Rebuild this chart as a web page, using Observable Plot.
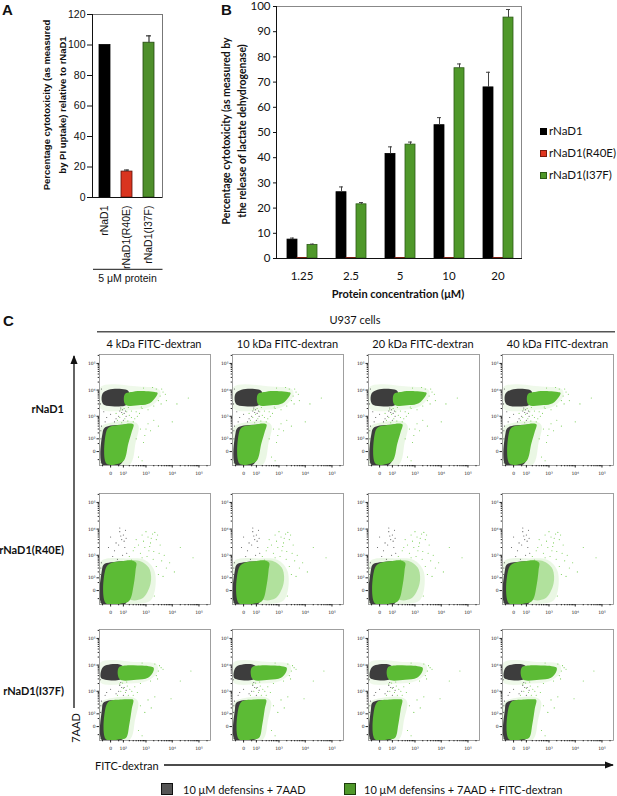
<!DOCTYPE html>
<html><head><meta charset="utf-8">
<script src="https://cdn.jsdelivr.net/npm/d3@7"></script>
<script src="https://cdn.jsdelivr.net/npm/@observablehq/plot@0.6"></script>
<style>
body{margin:0;background:#fff;}
#fig{position:relative;width:617px;height:796px;overflow:hidden;font-family:Lato,sans-serif;background:#fff;}
#fig svg{max-width:none;overflow:visible;}
</style></head><body><div id="fig"></div>
<script>
// ---------------- Panel A data ----------------
const aCategories = ["rNaD1", "rNaD1(R40E)", "rNaD1(I37F)"];
const aValues = [100, 17, 101.5];
const aErrors = [0, 1, 4.5];
const aColors = ["#000000", "#d9341f", "#4e8f2b"];
const aStrokes = ["#000000", "#5a1008", "#24480f"];
const aTicks = [0, 20, 40, 60, 80, 100, 120];

// ---------------- Panel B data ----------------
const bConcentrations = ["1.25", "2.5", "5", "10", "20"];
const bSeries = ["rNaD1", "rNaD1(R40E)", "rNaD1(I37F)"];
const bRNaD1 = [7.5, 26.3, 41.5, 52.9, 67.9];
const bRNaD1Err = [0.6, 2.1, 2.8, 3.0, 6.0];
const bR40E = [0.2, 0.2, 0.2, 0.2, 0.2];
const bR40EErr = [0, 0, 0, 0, 0];
const bI37F = [5.4, 21.5, 45.2, 75.5, 95.6];
const bI37FErr = [0.3, 0.7, 1.0, 1.7, 3.2];
const bColors = ["#000000", "#e0351f", "#4f982a"];
const bStrokes = ["#000000", "#7a1a0c", "#2c5a16"];
const bTicks = [0, 10, 20, 30, 40, 50, 60, 70, 80, 90, 100];

// ---------------- Panel C data ----------------
const cColumns = ["4 kDa FITC-dextran", "10 kDa FITC-dextran", "20 kDa FITC-dextran", "40 kDa FITC-dextran"];
const cRows = ["rNaD1", "rNaD1(R40E)", "rNaD1(I37F)"];
const cMajorTicks = [0, 100, 1000, 10000, 100000];
const cMajorLabels = ["0", "10²", "10³", "10⁴", "10⁵"];
const cMinorTicks = [-50, 50, 200, 300, 400, 500, 600, 700, 800, 900, 2000, 3000, 4000, 5000, 6000, 7000, 8000, 9000, 20000, 30000, 40000, 50000, 60000, 70000, 80000, 90000, 200000];

// row 1: rNaD1  (FITC-dextran x, 7AAD y)
const r1Halo = [[-70,-110],[-70,350],[0,550],[300,620],[500,420],[380,60],[200,-110]];
const r1DeadHalo = [[-70,2000],[-70,13000],[500,13500],[3200,10500],[3500,6000],[1500,2400],[300,1800]];
const r1LiveGrey = [[-50,-110],[-50,200],[-35,330],[0,420],[100,460],[190,450],[170,150],[110,-40],[55,-110]];
const r1LiveGreen = [[-22,-90],[-22,240],[-5,370],[80,460],[220,510],[310,470],[260,230],[180,50],[110,-55],[40,-95]];
const r1DeadGrey = [[-55,3600],[-50,7500],[-10,10300],[80,11000],[180,9300],[200,5500],[140,2700],[20,2400],[-35,2700]];
const r1DeadGreen = [[130,2800],[120,7000],[300,8700],[1000,9100],[2200,8500],[2800,7800],[2400,5500],[1400,3200],[600,2700]];
const r1DotsGreen = [[40,700],[60,900],[90,1200],[120,800],[150,1500],[70,1800],[200,1100],[110,2000],[30,1300],[170,650],[250,900],[80,550],
  [3500,6000],[4500,8500],[3000,4000],[2000,2500],[5500,7000],[1200,1800],[2500,11000],[800,12000],[6000,4000],
  [600,300],[900,150],[1200,500],[800,60],[500,-30],[1500,250],[2000,700],[3000,400],[10000,600],[15000,3000],[40000,5000],[400,1500],[700,2000],[300,600],
  [450,1000],[350,800],[550,1300],[250,1600],[180,2200],[650,2300],[3800,3000],[4000,11000],[1800,12500],[400,100],[700,-60],[1000,300]];
const r1DotsGrey = [[50,1000],[80,1400],[100,700],[30,800],[140,1000],[60,1600],[0,1200],[-20,900],[20,600],[110,1300],[70,2100],[-40,1500],
  [-60,400],[-65,100],[-62,-80],[-30,600],[90,1800],[130,1600],[-70,3000],[-60,11000],[-66,250],[-58,-30]];

// row 2: rNaD1(R40E)
const r2Halo = [[-70,-110],[-70,550],[150,750],[900,650],[2200,200],[1600,-60],[400,-110]];
const r2Side = [[180,-50],[180,560],[450,620],[850,480],[1400,260],[1500,40],[700,-50]];
const r2LiveGrey = [[-55,-114],[-55,250],[-40,420],[0,520],[120,580],[230,560],[230,200],[180,-20],[120,-114]];
const r2LiveGreen = [[-25,-100],[-25,300],[0,480],[100,590],[220,630],[400,500],[380,250],[320,40],[200,-70],[90,-100]];
const r2DotsGreen = [[200,900],[300,1500],[500,2500],[800,3500],[1200,5000],[1800,6500],[2200,7500],[600,1200],[900,2000],[1500,3000],[400,4000],[700,6000],[1000,8000],
  [2500,4000],[3500,2500],[5000,1000],[250,650],[1300,1500],[8000,500],[20000,2000],[60000,800],[3000,150],[6000,300],[350,2000],[1600,4500],[2800,6000],[4000,600],[12000,200],
  [1900,700],[2500,350],[1100,900],[3200,1200],[700,800],[2100,-30],[4500,120],[1400,2200],[2000,1400]];
const r2DotsGrey = [[20,1500],[50,2500],[80,4000],[100,6000],[60,8000],[30,3000],[120,2000],[0,5000],[90,1000],[40,700],[110,3500],[70,5500],[130,9000],[-10,2000],[150,1200],[10,900],
  [-60,500],[-68,150],[-65,-90],[140,4500],[60,11000],[-66,300],[-62,0]];

// row 3: rNaD1(I37F)
const r3Halo = [[-70,-110],[-70,330],[0,520],[280,580],[480,380],[360,40],[200,-110]];
const r3DeadHalo = [[-70,2200],[-70,12500],[400,13000],[2600,10500],[2800,5500],[1100,2500],[200,2000]];
const r3LiveGrey = [[-55,-114],[-55,180],[-45,330],[-10,420],[100,440],[160,420],[150,50],[110,-80],[60,-114]];
const r3LiveGreen = [[-25,-100],[-25,230],[-5,400],[80,470],[200,480],[300,450],[260,190],[200,10],[140,-80],[60,-100]];
const r3DeadGrey = [[-65,3300],[-55,7500],[-20,10000],[60,10500],[110,8000],[110,4000],[60,2800],[-30,2800]];
const r3DeadGreen = [[60,2900],[50,8000],[200,9800],[700,9600],[1500,8800],[2000,7800],[1800,5000],[1200,3300],[400,2800]];
const r3DotsGreen = [[40,700],[70,1000],[100,1300],[130,900],[160,1600],[60,1900],[210,1200],[90,2100],[180,700],[260,1000],
  [3000,6000],[3800,8000],[2500,4000],[1500,2500],[4500,7000],[2200,11000],[700,12000],
  [600,250],[900,120],[1200,450],[500,-20],[1600,200],[2200,600],[9000,500],[20000,2500],[50000,6000],[350,1500],[600,2000],
  [450,900],[300,700],[150,2300],[2800,3000],[3300,9500],[700,-60]];
const r3DotsGrey = [[50,1000],[80,1400],[100,700],[30,800],[140,1100],[60,1700],[0,1200],[-20,900],[110,1400],[70,2200],
  [-60,400],[-68,120],[-64,-90],[-30,700],[-70,2800],[-66,250]];

// ---------------- helpers ----------------
const fig = document.getElementById("fig");
function place(node, left, top) {
  const w = document.createElement("div");
  w.style.cssText = `position:absolute;left:${left}px;top:${top}px;`;
  w.appendChild(node);
  fig.appendChild(w);
  return w;
}
function label(str, x, y, font, opts = {}) {
  const d = document.createElement("div");
  d.textContent = str;
  const tx = opts.anchor === "middle" ? "-50%" : opts.anchor === "end" ? "-100%" : "0";
  d.style.cssText = `position:absolute;left:${x}px;top:${y}px;white-space:nowrap;font:${font};color:${opts.color || "#111"};line-height:1;` +
    `transform:translate(${tx},-50%)${opts.rotate ? " rotate(-90deg)" : ""};`;
  fig.appendChild(d);
  return d;
}
function box(left, top, w, h, css) {
  const d = document.createElement("div");
  d.style.cssText = `position:absolute;left:${left}px;top:${top}px;width:${w}px;height:${h}px;box-sizing:border-box;${css}`;
  fig.appendChild(d);
  return d;
}

// decorative overlay (lines/arrows)
const ns = "http://www.w3.org/2000/svg";
const deco = document.createElementNS(ns, "svg");
deco.setAttribute("width", 617); deco.setAttribute("height", 796);
deco.style.cssText = "position:absolute;left:0;top:0;";
deco.innerHTML = `
<defs><marker id="ah" viewBox="0 0 10 10" refX="9" refY="5" markerWidth="7" markerHeight="7" orient="auto-start-reverse"><path d="M0,1 L10,5 L0,9 z" fill="#111"/></marker></defs>
<line x1="93" y1="269.3" x2="162.5" y2="269.3" stroke="#444" stroke-width="1.3"/>
<line x1="97" y1="331.7" x2="615" y2="331.7" stroke="#555" stroke-width="1.6"/>
<line x1="74" y1="708" x2="74" y2="356" stroke="#111" stroke-width="1.3" marker-end="url(#ah)"/>
<line x1="164" y1="765" x2="613" y2="765" stroke="#111" stroke-width="1.3" marker-end="url(#ah)"/>
`;
fig.appendChild(deco);

// ---------------- Panel A ----------------
const aData = aCategories.map((c, i) => ({cat: c, v: aValues[i], e: aErrors[i], fill: aColors[i], stroke: aStrokes[i]}));
const plotA = Plot.plot({
  width: 200, height: 300,
  marginLeft: 92, marginRight: 38, marginTop: 14, marginBottom: 103,
  style: {background: "transparent", fontFamily: "'Liberation Sans', Arial, sans-serif", fontSize: "10.5px", color: "#111"},
  x: {domain: aCategories, paddingInner: 0.48, paddingOuter: 0.3, label: null},
  y: {domain: [0, 120], label: null},
  color: {type: "identity"},
  marks: [
    Plot.frame({stroke: "#777"}),
    Plot.barY(aData, {x: "cat", y: "v", fill: d => d.fill, stroke: d => d.stroke, strokeWidth: 0.8}),
    Plot.ruleX(aData.filter(d => d.e > 0), {x: "cat", y1: "v", y2: d => d.v + d.e, stroke: "#333", strokeWidth: 1.2}),
    Plot.tickY(aData.filter(d => d.e > 0), {x: "cat", y: d => d.v + d.e, stroke: "#333", strokeWidth: 1.2, insetLeft: 3, insetRight: 3}),
    Plot.axisY(aTicks, {tickSize: 5, tickPadding: 2, label: null}),
    Plot.axisX({tickRotate: -90, tickSize: 0, tickPadding: 8, label: null}),
    Plot.frame({anchor: "left", stroke: "#111"}),
    Plot.ruleY([0], {stroke: "#111", strokeWidth: 1.2})
  ]
});
place(plotA, 0, 0);
label("A", 2, 9, "bold 15px 'Liberation Sans', Arial, sans-serif");
label("Percentage cytotoxicity (as measured", 47, 105, "bold 9.5px 'Liberation Sans', Arial, sans-serif", {anchor: "middle", rotate: true});
label("by PI uptake) relative to rNaD1", 62.5, 105, "bold 9.5px 'Liberation Sans', Arial, sans-serif", {anchor: "middle", rotate: true});
label("5 μM protein", 127.5, 277.5, "10.5px 'Liberation Sans', Arial, sans-serif", {anchor: "middle"});

// ---------------- Panel B ----------------
box(276, 6, 246, 252.5, "border-top:1px solid #888;border-right:1px solid #888;border-left:1.2px solid #111;");
const bData = [];
bConcentrations.forEach((c, i) => {
  bData.push({conc: c, s: bSeries[0], v: bRNaD1[i], e: bRNaD1Err[i]});
  bData.push({conc: c, s: bSeries[1], v: bR40E[i], e: bR40EErr[i]});
  bData.push({conc: c, s: bSeries[2], v: bI37F[i], e: bI37FErr[i]});
});
const bFill = s => bColors[bSeries.indexOf(s)];
const bStroke = s => bStrokes[bSeries.indexOf(s)];
const plotB = Plot.plot({
  width: 340, height: 300,
  marginLeft: 86, marginRight: 8, marginTop: 6, marginBottom: 42,
  style: {background: "transparent", fontFamily: "Lato, sans-serif", fontSize: "11.5px", color: "#111"},
  fx: {domain: bConcentrations, padding: 0, label: null, axis: "bottom", tickSize: 0, tickPadding: 13},
  x: {domain: bSeries, paddingInner: 0.04, paddingOuter: 0.75, axis: null},
  y: {domain: [0, 100], ticks: bTicks, tickSize: 4, tickPadding: 3, label: null},
  color: {type: "identity"},
  marks: [
    Plot.barY(bData, {fx: "conc", x: "s", y: "v", fill: d => bFill(d.s), stroke: d => bStroke(d.s), strokeWidth: 0.8}),
    Plot.ruleX(bData.filter(d => d.e > 0), {fx: "conc", x: "s", y1: "v", y2: d => d.v + d.e, stroke: "#444", strokeWidth: 1}),
    Plot.tickY(bData.filter(d => d.e > 0), {fx: "conc", x: "s", y: d => d.v + d.e, stroke: "#444", strokeWidth: 1, insetLeft: 3, insetRight: 3}),
    Plot.ruleY([0], {stroke: "#111", strokeWidth: 1.2})
  ]
});
place(plotB, 190, 0);
label("B", 221, 9, "bold 15px 'Liberation Sans', Arial, sans-serif");
label("Percentage cytotoxicity (as measured by", 226, 131, "bold 10.5px Lato, sans-serif", {anchor: "middle", rotate: true});
label("the release of lactate dehydrogenase)", 242, 131, "bold 10.5px Lato, sans-serif", {anchor: "middle", rotate: true});
label("Protein concentration (μM)", 398, 292.5, "bold 11px Lato, sans-serif", {anchor: "middle"});
const legendYs = [131, 153, 175];
bSeries.forEach((s, i) => {
  box(540, legendYs[i] - 3.5, 7, 7, `background:${bColors[i]};border:0.6px solid ${bStrokes[i]};`);
  label(s, 549, legendYs[i], "11.5px Lato, sans-serif");
});

// ---------------- Panel C ----------------
label("C", 3, 320, "bold 15px 'Liberation Sans', Arial, sans-serif");
label("U937 cells", 355, 319, "11px Lato, sans-serif", {anchor: "middle"});
const rowSets = [
  {halo: r1Halo, deadHalo: r1DeadHalo, side: null, liveGrey: r1LiveGrey, liveGreen: r1LiveGreen, deadGrey: r1DeadGrey, deadGreen: r1DeadGreen, dotsGreen: r1DotsGreen, dotsGrey: r1DotsGrey},
  {halo: r2Halo, deadHalo: null, side: r2Side, liveGrey: r2LiveGrey, liveGreen: r2LiveGreen, deadGrey: null, deadGreen: null, dotsGreen: r2DotsGreen, dotsGrey: r2DotsGrey},
  {halo: r3Halo, deadHalo: r3DeadHalo, side: null, liveGrey: r3LiveGrey, liveGreen: r3LiveGreen, deadGrey: r3DeadGrey, deadGreen: r3DeadGreen, dotsGreen: r3DotsGreen, dotsGrey: r3DotsGrey}
];
const colLefts = [98.5, 232, 367.5, 502];
const rowTops = [354, 492.5, 628.5];
const rowLabelYs = [408, 549, 690];
const GREEN = "#5cbb35", GREY = "#3d3d3d";

function blob(arr, fill, op) {
  return Plot.line(arr, {x: d => d[0], y: d => d[1], curve: "catmull-rom-closed", fill, fillOpacity: op, stroke: "none", clip: true});
}
function flowPlot(rs) {
  const marks = [];
  marks.push(blob(rs.halo, "#b5e29e", 0.28));
  if (rs.deadHalo) marks.push(blob(rs.deadHalo, "#b5e29e", 0.22));
  marks.push(Plot.dot(rs.dotsGrey, {x: d => d[0], y: d => d[1], r: 0.55, fill: "#555", clip: true}));
  marks.push(Plot.dot(rs.dotsGreen, {x: d => d[0], y: d => d[1], r: 0.55, fill: "#74cc50", clip: true}));
  marks.push(blob(rs.liveGrey, GREY, 1));
  if (rs.side) marks.push(blob(rs.side, "#6cc646", 0.45));
  marks.push(blob(rs.liveGreen, GREEN, 1));
  if (rs.deadGrey) marks.push(blob(rs.deadGrey, GREY, 1));
  if (rs.deadGreen) marks.push(blob(rs.deadGreen, GREEN, 1));
  marks.push(Plot.frame({stroke: "#888", strokeWidth: 0.8}));
  marks.push(Plot.axisY(cMajorTicks, {tickSize: 2.5, tickPadding: 1.5, tickFormat: d => cMajorLabels[cMajorTicks.indexOf(d)], label: null, fontSize: 4.5}));
  marks.push(Plot.axisY(cMinorTicks, {tickSize: 1.3, tickFormat: () => "", label: null}));
  marks.push(Plot.axisX(cMajorTicks, {tickSize: 2.5, tickPadding: 3.5, tickFormat: d => cMajorLabels[cMajorTicks.indexOf(d)], label: null, fontSize: 4.5}));
  marks.push(Plot.axisX(cMinorTicks, {tickSize: 1.3, tickFormat: () => "", label: null}));
  return Plot.plot({
    width: 127, height: 125,
    marginLeft: 15, marginRight: 1, marginTop: 1, marginBottom: 13,
    style: {background: "transparent", fontFamily: "'DejaVu Sans', sans-serif", fontSize: "4.5px", color: "#222"},
    x: {type: "symlog", constant: 50, domain: [-80, 270000], label: null},
    y: {type: "symlog", constant: 50, domain: [-116, 216000], label: null},
    marks
  });
}
cColumns.forEach((c, j) => {
  label(c, colLefts[j] + 55.5, 343, "11px Lato, sans-serif", {anchor: "middle"});
});
cRows.forEach((r, i) => {
  label(r, 64, rowLabelYs[i], "bold 11px Lato, sans-serif", {anchor: "end"});
  cColumns.forEach((c, j) => {
    place(flowPlot(rowSets[i]), colLefts[j] - 15, rowTops[i] - 1);
  });
});
label("7AAD", 75, 728, "11px Lato, sans-serif", {anchor: "middle", rotate: true});
label("FITC-dextran", 95, 764.5, "11px Lato, sans-serif");
box(161, 783, 12, 12, "background:#555;border:1px solid #111;");
label("10 μM defensins + 7AAD", 183, 789, "11px Lato, sans-serif");
box(344, 783, 12, 12, "background:#4f982a;border:1px solid #1d3d0c;");
label("10 μM defensins + 7AAD + FITC-dextran", 364, 789, "11px Lato, sans-serif");
</script></body></html>
